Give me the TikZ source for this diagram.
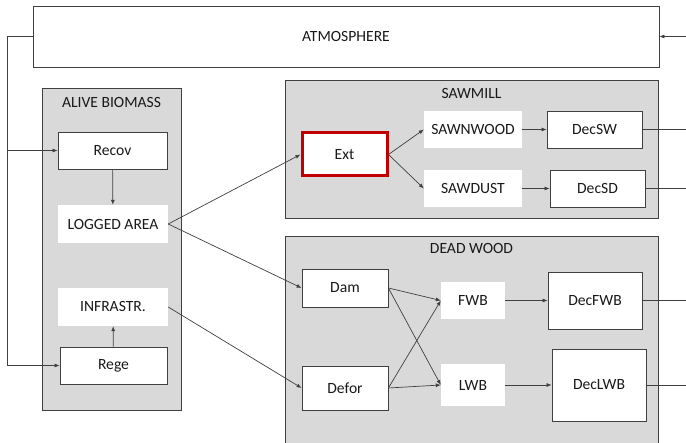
\documentclass[tikz,border=0pt]{standalone}
\usepackage{fontspec}
\setmainfont{Carlito}
\usepackage{tikz}
\usetikzlibrary{arrows.meta}

\definecolor{groupgray}{HTML}{D9D9D9}
\definecolor{edgegray}{HTML}{404040}
\definecolor{extred}{HTML}{C00000}

\tikzset{
  every node/.style={font=\fontsize{15.6}{18}\selectfont, inner sep=0pt, text=black!90},
  group/.style={draw=edgegray, fill=groupgray, line width=0.8pt},
  pool/.style={draw=edgegray, fill=white, line width=0.8pt},
  stock/.style={fill=white},
  flow/.style={draw=edgegray, line width=0.7pt, -{Latex[length=5pt,width=4pt]}},
  line/.style={draw=edgegray, line width=0.7pt},
}

\begin{document}
\begin{tikzpicture}[x=1pt, y=-1pt]
  \clip (0,0) rectangle (686,443);
  \fill[white] (0,0) rectangle (686,443);
  % containers
  \node[pool, minimum width=626pt, minimum height=61pt] (atmo) at (346,36.5) {ATMOSPHERE};
  \node[group, minimum width=139pt, minimum height=322pt] (alive) at (111.5,249) {};
  \node (alivetitle) at (111.5,102) {ALIVE BIOMASS};
  \node[group, minimum width=373pt, minimum height=138pt] (sawmill) at (471.5,149) {};
  \node (sawmilltitle) at (471.5,93) {SAWMILL};
  \node[group, minimum width=373pt, minimum height=230pt] (dead) at (471.5,351) {};
  \node (deadtitle) at (471.5,248) {DEAD WOOD};
  % alive biomass
  \node[pool, minimum width=109pt, minimum height=37pt] (recov) at (112.5,150.5) {Recov};
  \node[stock, minimum width=110pt, minimum height=38pt] (logged) at (113,224) {LOGGED AREA};
  \node[stock, minimum width=110pt, minimum height=38pt] (infra) at (113,307) {INFRASTR.};
  \node[pool, minimum width=107pt, minimum height=37pt] (rege) at (113.5,365.5) {Rege};
  % sawmill
  \node[pool, draw=extred, line width=3pt, minimum width=85pt, minimum height=43pt] (ext) at (344.5,154.5) {Ext};
  \node[stock, minimum width=98pt, minimum height=37pt] (sawnwood) at (473,129.5) {SAWNWOOD};
  \node[stock, minimum width=98pt, minimum height=37pt] (sawdust) at (473,188.5) {SAWDUST};
  \node[pool, minimum width=95pt, minimum height=37pt] (decsw) at (594.5,129.5) {DecSW};
  \node[pool, minimum width=95pt, minimum height=37pt] (decsd) at (597.5,188.5) {DecSD};
  % dead wood
  \node[pool, minimum width=86pt, minimum height=38pt] (dam) at (345,288) {Dam};
  \node[pool, minimum width=86pt, minimum height=44pt] (defor) at (345,388) {Defor};
  \node[stock, minimum width=64pt, minimum height=37pt] (fwb) at (473,300.5) {FWB};
  \node[stock, minimum width=64pt, minimum height=42pt] (lwb) at (473,385) {LWB};
  \node[pool, minimum width=94pt, minimum height=57pt] (decfwb) at (595,300.5) {DecFWB};
  \node[pool, minimum width=94pt, minimum height=72pt] (declwb) at (599,385) {DecLWB};

  % return path from the atmosphere
  \coordinate (ret) at (7,365.5);
  \coordinate (tap) at (7,150.5);
  \coordinate (rin) at (686,36.5);
  \draw[line] (atmo.west) -| (ret);
  \draw[flow] (ret) -- (rege.west);
  \draw[flow] (tap) -- (recov.west);
  \draw[flow] (rin) -- (atmo.east);

  \draw[flow] (recov) -- (logged);
  \draw[flow] (rege) -- (infra);
  \draw[flow] (logged.east) -- (ext.west);
  \draw[flow] (logged.east) -- (dam.west);
  \draw[flow] (infra.east) -- (defor.west);

  \draw[flow] (ext.east) -- (sawnwood.west);
  \draw[flow] (ext.east) -- (sawdust.west);
  \draw[flow] (sawnwood) -- (decsw);
  \draw[flow] (sawdust) -- (decsd);

  \draw[flow] (dam.east) -- (fwb.west);
  \draw[flow] (dam.east) -- (lwb.west);
  \draw[flow] (defor.east) -- (fwb.west);
  \draw[flow] (defor.east) -- (lwb.west);
  \draw[flow] (fwb) -- (decfwb);
  \draw[flow] (lwb) -- (declwb);

  % emissions
  \draw[line] (decsw.east) -- (decsw.east -| rin);
  \draw[line] (decsd.east) -- (decsd.east -| rin);
  \draw[line] (decfwb.east) -- (decfwb.east -| rin);
  \draw[line] (declwb.east) -- (declwb.east -| rin);
\end{tikzpicture}
\end{document}
